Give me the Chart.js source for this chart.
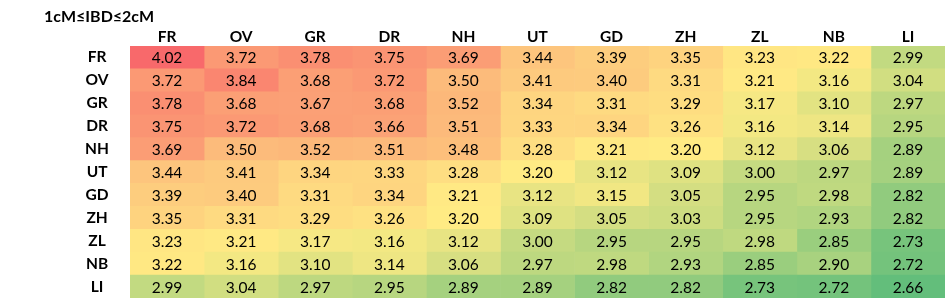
<!DOCTYPE html>
<html><head><meta charset="utf-8">
<script src="https://cdn.jsdelivr.net/npm/chart.js@4.4.1/dist/chart.umd.min.js"></script>
<style>html,body{margin:0;padding:0;background:#fff}#wrap{position:relative;width:945px;height:300px}</style>
</head><body><div id="wrap"><canvas id="c"></canvas></div>
<script>
const title = "1cM≤IBD≤2cM";
const rowLabels = ["FR","OV","GR","DR","NH","UT","GD","ZH","ZL","NB","LI"];
const colLabels = ["FR","OV","GR","DR","NH","UT","GD","ZH","ZL","NB","LI"];
const rowFR = [4.02,3.72,3.78,3.75,3.69,3.44,3.39,3.35,3.23,3.22,2.99];
const rowOV = [3.72,3.84,3.68,3.72,3.50,3.41,3.40,3.31,3.21,3.16,3.04];
const rowGR = [3.78,3.68,3.67,3.68,3.52,3.34,3.31,3.29,3.17,3.10,2.97];
const rowDR = [3.75,3.72,3.68,3.66,3.51,3.33,3.34,3.26,3.16,3.14,2.95];
const rowNH = [3.69,3.50,3.52,3.51,3.48,3.28,3.21,3.20,3.12,3.06,2.89];
const rowUT = [3.44,3.41,3.34,3.33,3.28,3.20,3.12,3.09,3.00,2.97,2.89];
const rowGD = [3.39,3.40,3.31,3.34,3.21,3.12,3.15,3.05,2.95,2.98,2.82];
const rowZH = [3.35,3.31,3.29,3.26,3.20,3.09,3.05,3.03,2.95,2.93,2.82];
const rowZL = [3.23,3.21,3.17,3.16,3.12,3.00,2.95,2.95,2.98,2.85,2.73];
const rowNB = [3.22,3.16,3.10,3.14,3.06,2.97,2.98,2.93,2.85,2.90,2.72];
const rowLI = [2.99,3.04,2.97,2.95,2.89,2.89,2.82,2.82,2.73,2.72,2.66];
const rows = [rowFR,rowOV,rowGR,rowDR,rowNH,rowUT,rowGD,rowZH,rowZL,rowNB,rowLI];

// Excel-style 3-colour scale (min green, 50th percentile yellow, max red)
const all = rows.flat().slice().sort((a,b)=>a-b);
const vMin = all[0], vMax = all[all.length-1];
function pct(p){const k=(all.length-1)*p;const f=Math.floor(k),c=Math.ceil(k);return all[f]+(all[c]-all[f])*(k-f);}
const vMid = pct(0.5);
const cLow=[0x63,0xBE,0x7B], cMid=[0xFF,0xEB,0x84], cHigh=[0xF8,0x69,0x6B];
function mix(a,b,t){return a.map((x,i)=>Math.round(x+(b[i]-x)*t));}
function colorFor(v){
  let c;
  if(v<=vMid){c=mix(cLow,cMid,(v-vMin)/(vMid-vMin));}
  else{c=mix(cMid,cHigh,(v-vMid)/(vMax-vMid));}
  return `rgb(${c[0]},${c[1]},${c[2]})`;
}

const FONT = "Lato, 'Open Sans', sans-serif";
const datasets = colLabels.map((cl,j)=>({
  label: cl,
  data: rows.map(()=>1),
  cellValues: rows.map(r=>r[j]),
  backgroundColor: rows.map(r=>colorFor(r[j])),
  borderWidth: 0,
  barPercentage: 1,
  categoryPercentage: 1,
  xAxisID: 'x',
  yAxisID: 'y'
}));

const cellText = {
  id:'cellText',
  afterDatasetsDraw(chart){
    const ctx=chart.ctx;
    ctx.save();
    ctx.font = "15.5px " + FONT;
    ctx.fillStyle="#000";
    ctx.textAlign="center";
    ctx.textBaseline="middle";
    chart.data.datasets.forEach((ds,di)=>{
      const meta=chart.getDatasetMeta(di);
      meta.data.forEach((el,i)=>{
        const p=el.getProps(['x','base','y'],true);
        ctx.fillText(ds.cellValues[i].toFixed(2),(p.x+p.base)/2,p.y+1);
      });
    });
    ctx.restore();
  },
  afterDraw(chart){
    const ctx=chart.ctx;
    ctx.save();
    ctx.font="bold 16px "+FONT;
    ctx.fillStyle="#000";
    ctx.textAlign="left";
    ctx.textBaseline="middle";
    ctx.fillText(title,44,17);
    ctx.restore();
  }
};

new Chart(document.getElementById('c'),{
  type:'bar',
  data:{labels:rowLabels,datasets},
  options:{
    indexAxis:'y',
    responsive:true,
    maintainAspectRatio:false,
    animation:false,
    layout:{padding:{left:0,right:0,top:0,bottom:2}},
    plugins:{legend:{display:false},tooltip:{enabled:false},title:{display:false}},
    scales:{
      x:{type:'linear',stacked:true,min:0,max:colLabels.length,display:false},
      x2:{type:'category',labels:colLabels,position:'top',offset:true,
          grid:{display:false,drawTicks:false},border:{display:false},
          ticks:{color:'#000',font:{family:FONT,size:15.5,weight:'bold'},padding:0,maxRotation:0,autoSkip:false},
          afterFit(s){s.height=46;s.paddingLeft=0;s.paddingRight=0;}},
      y:{type:'category',stacked:true,
          grid:{display:false,drawTicks:false},border:{display:false},
          ticks:{color:'#000',font:{family:FONT,size:15.5,weight:'bold'},padding:21,crossAlign:'center',autoSkip:false},
          afterFit(s){s.width=130;s.paddingTop=0;s.paddingBottom=0;}}
    }
  },
  plugins:[cellText]
});
</script></body></html>
